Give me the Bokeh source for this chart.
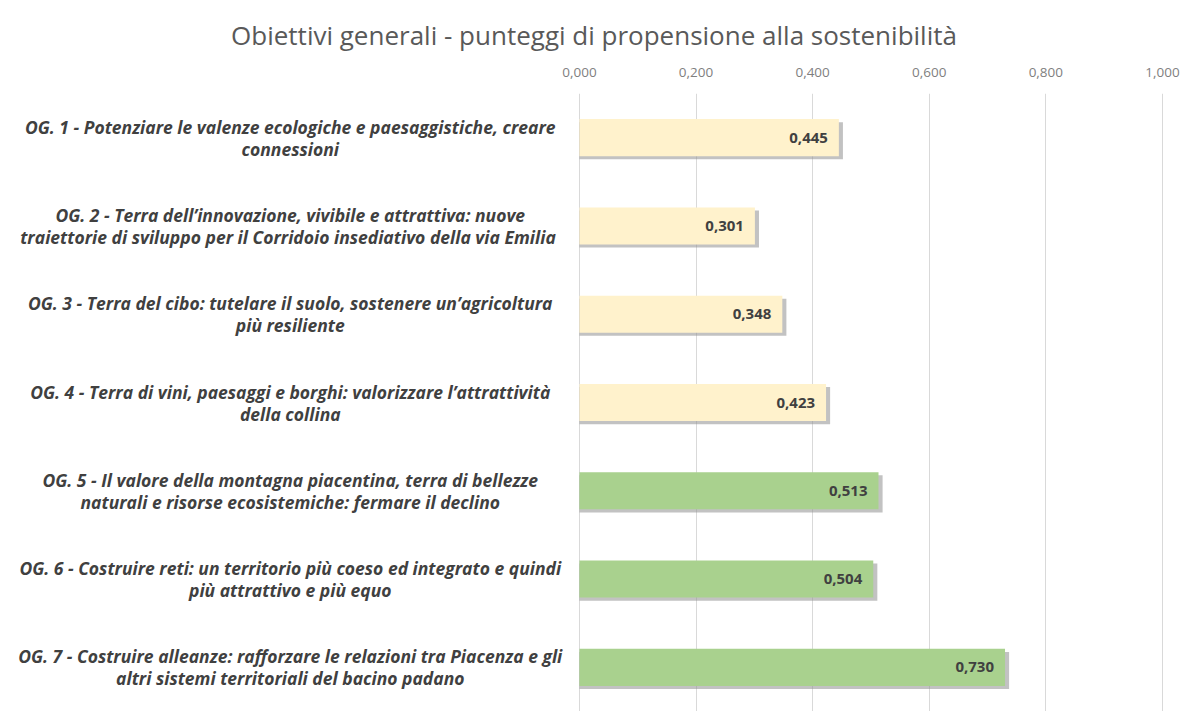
from bokeh.plotting import figure
from bokeh.models import ColumnDataSource, FixedTicker, Range1d, Title
from bokeh.core.properties import value
from bokeh.embed import file_html
from bokeh.resources import INLINE

# ---- data ----
label_line1 = [
    "OG. 1 - Potenziare le valenze ecologiche e paesaggistiche, creare",
    "OG. 2 - Terra dell\u2019innovazione, vivibile e attrattiva: nuove",
    "OG. 3 - Terra del cibo: tutelare il suolo, sostenere un\u2019agricoltura",
    "OG. 4 - Terra di vini, paesaggi e borghi: valorizzare l\u2019attrattivit\u00e0",
    "OG. 5 - Il valore della montagna piacentina, terra di bellezze",
    "OG. 6 - Costruire reti: un territorio pi\u00f9 coeso ed integrato e quindi",
    "OG. 7 - Costruire alleanze: rafforzare le relazioni tra Piacenza e gli",
]
label_line2 = [
    "connessioni",
    "traiettorie  di sviluppo per il Corridoio insediativo della via Emilia",
    "pi\u00f9 resiliente",
    "della collina",
    "naturali e risorse ecosistemiche: fermare il declino",
    "pi\u00f9 attrattivo e pi\u00f9 equo",
    "altri sistemi territoriali del bacino padano",
]
scores = [0.445, 0.301, 0.348, 0.423, 0.513, 0.504, 0.730]
groups = ["a", "a", "a", "a", "b", "b", "b"]
tick_values = [0.0, 0.2, 0.4, 0.6, 0.8, 1.0]
tick_labels = ["0,000", "0,200", "0,400", "0,600", "0,800", "1,000"]
title_text = "Obiettivi generali - punteggi di propensione alla sostenibilit\u00e0"

color_map = {"a": "#FFF2CC", "b": "#A9D18E"}
label_x = -0.496  # centre of the category label block (data units)

idx = list(range(len(scores)))
src = ColumnDataSource(dict(
    y=idx,
    score=scores,
    shadow_right=[s + 0.007 for s in scores],
    shadow_y=[i + 0.035 for i in idx],
    color=[color_map[g] for g in groups],
    txt=[f"{s:.3f}".replace(".", ",") for s in scores],
    l1=label_line1,
    l2=label_line2,
    lx=[label_x] * len(scores),
))

p = figure(width=1187, height=711, output_backend="svg", toolbar_location=None,
           x_range=Range1d(-0.993, 1.043), y_range=Range1d(6.5, -0.5),
           x_axis_location="above", min_border_left=0, min_border_right=0,
           min_border_bottom=0, min_border_top=93)
p.outline_line_color = None
p.background_fill_color = "white"
p.border_fill_color = "white"

p.title = Title(text=title_text, align="center", text_font="Open Sans",
                text_font_size="26px", text_font_style="normal",
                text_color="#595959", standoff=24)

# shadows
p.hbar(y="shadow_y", right="shadow_right", left=0, height=0.42, source=src,
       fill_color="#8f8f8f", fill_alpha=0.55, line_color=None)
# bars
p.hbar(y="y", right="score", left=0, height=0.42, source=src,
       fill_color="color", line_color=None)

# value labels
p.text(x="score", y="y", text="txt", source=src, text_align="right",
       text_baseline="middle", x_offset=-11, text_font=value("Open Sans"),
       text_font_size="15px", text_font_style="bold", text_color="#404040")

# category labels (two lines each)
p.text(x="lx", y="y", text="l1", source=src, text_align="center",
       text_baseline="middle", y_offset=-11, text_font=value("Open Sans"),
       text_font_size="17.5px", text_font_style="bold italic", text_color="#404040")
p.text(x="lx", y="y", text="l2", source=src, text_align="center",
       text_baseline="middle", y_offset=11, text_font=value("Open Sans"),
       text_font_size="17.5px", text_font_style="bold italic", text_color="#404040")

# axes
p.xaxis.ticker = FixedTicker(ticks=tick_values)
p.xaxis.major_label_overrides = {v: l for v, l in zip(tick_values, tick_labels)}
p.xaxis.axis_line_color = None
p.xaxis.major_tick_line_color = None
p.xaxis.minor_tick_line_color = None
p.xaxis.major_label_standoff = 11
p.xaxis.major_label_text_font = "Open Sans"
p.xaxis.major_label_text_font_size = "13.5px"
p.xaxis.major_label_text_color = "#7f7f7f"
p.yaxis.visible = False
p.xgrid.grid_line_color = "#d9d9d9"
p.xgrid.grid_line_width = 1
p.ygrid.grid_line_color = None

open("out.html", "w").write(file_html(p, INLINE))
